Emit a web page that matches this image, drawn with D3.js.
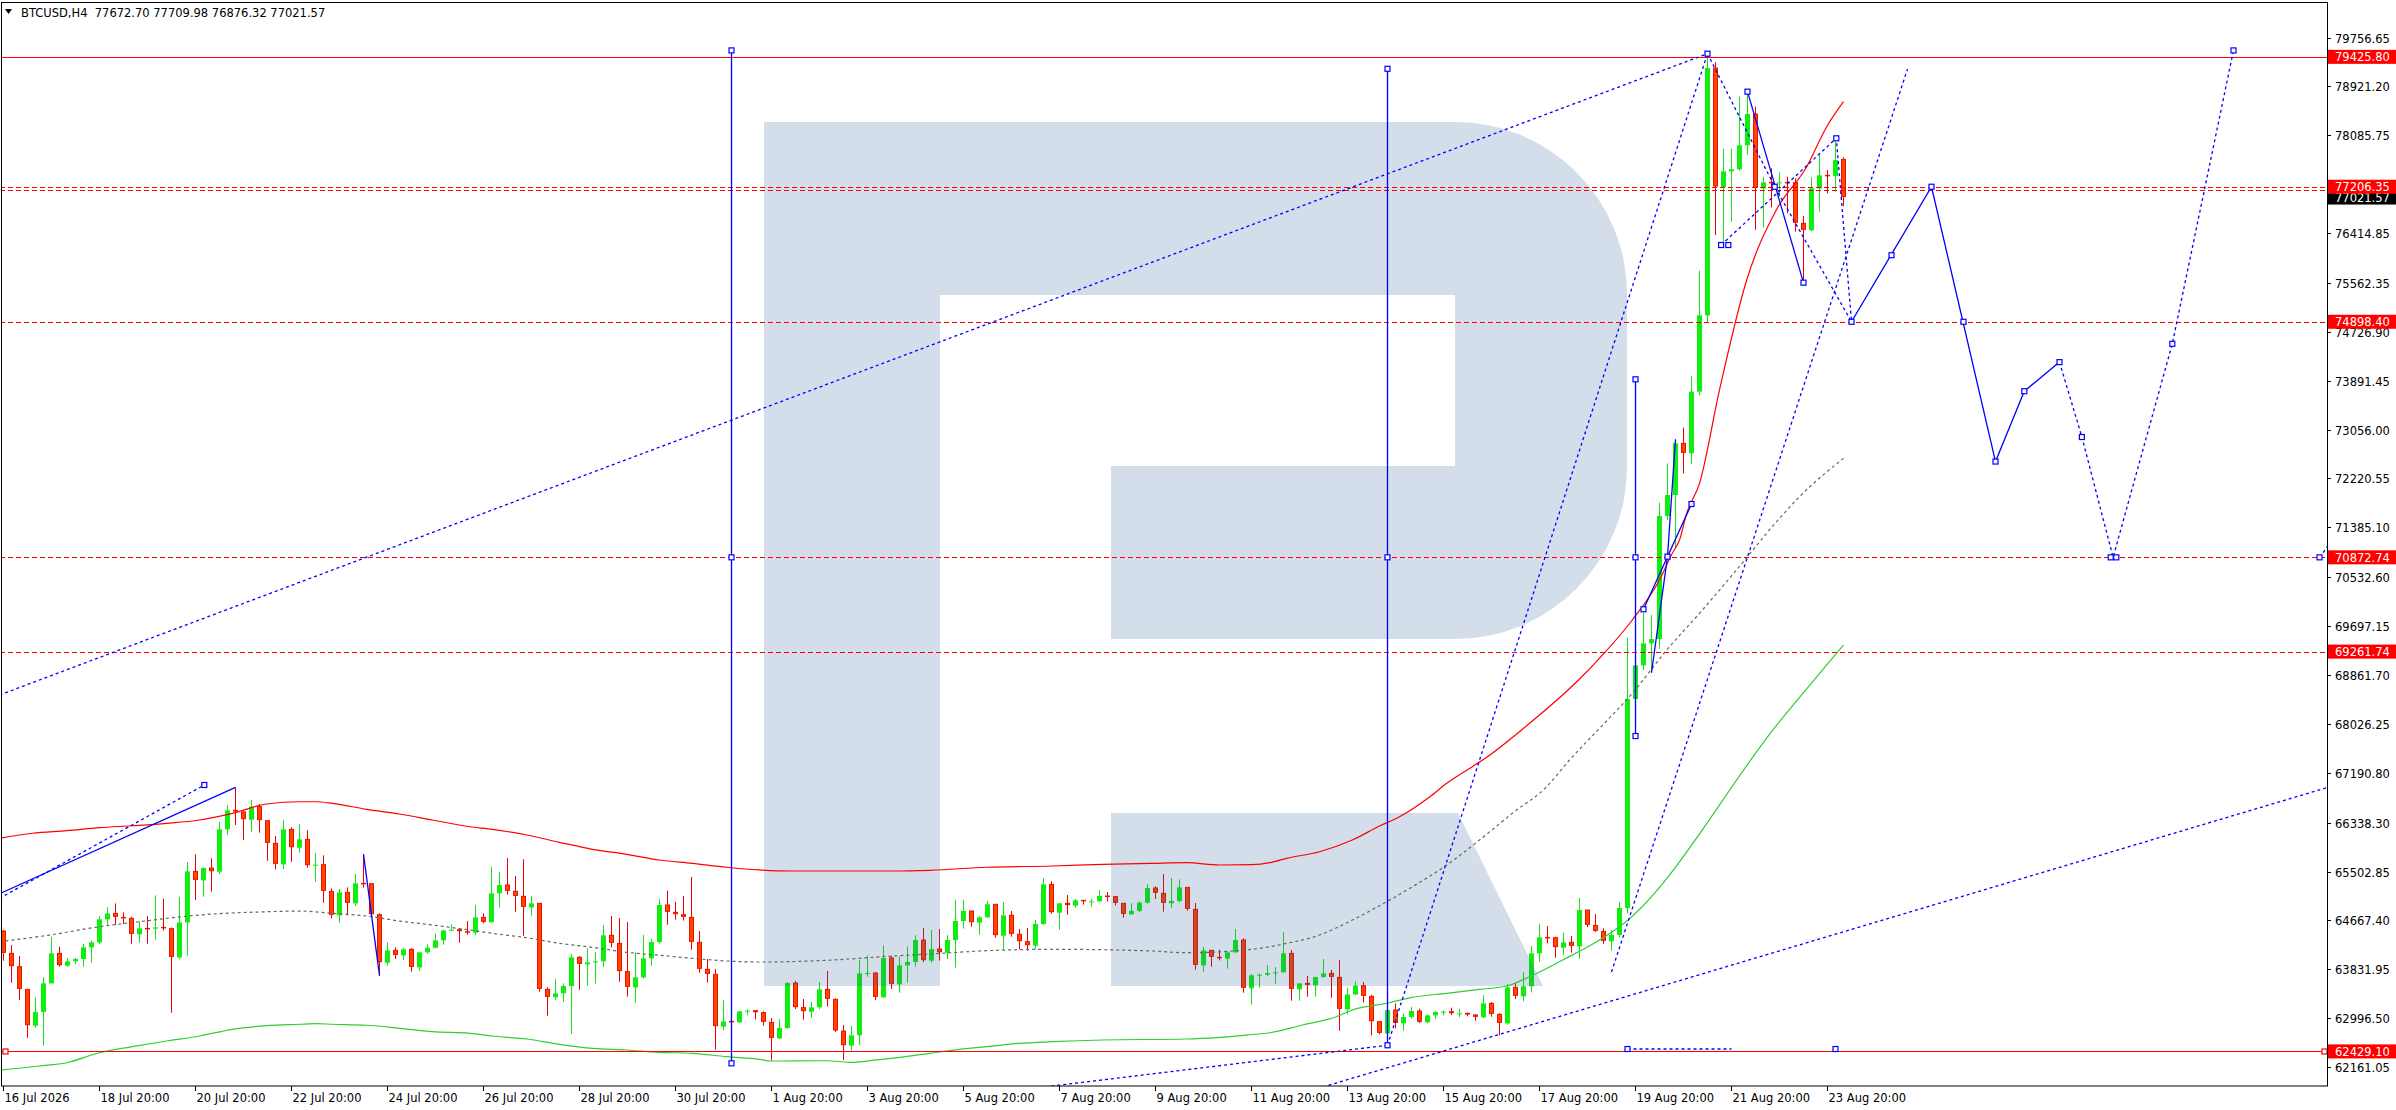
<!DOCTYPE html>
<html><head><meta charset="utf-8">
<script src="https://cdn.jsdelivr.net/npm/d3@7"></script>
<style>
body{margin:0;background:#fff;overflow:hidden;}
svg text{font-family:"DejaVu Sans","Liberation Sans",sans-serif;font-size:11.5px;}
</style></head>
<body><svg id="c" width="2396" height="1110"></svg>
<script>
// ===== DATA (BTCUSD H4, bar 0 = 16 Jul 2026 20:00) =====
const symbolTitle = "BTCUSD,H4  77672.70 77709.98 76876.32 77021.57";
const opens = [64486,64105,63877,63489,62868,63102,63592,64105,63894,63968,
64008,64207,64293,64686,64788,64720,64703,64429,64532,64526,
64549,64526,64036,64634,65506,65352,65563,65500,66224,66549,
66520,66389,66611,66372,65985,65626,66224,65910,66053,65603,
65620,65164,64754,65147,64959,65301,65295,64765,63945,64156,
64070,64173,63865,64122,64201,64327,64498,64509,64475,64458,
64720,64635,65131,65273,65165,65079,64891,64960,63490,63353,
63422,63547,64037,63917,63951,63969,64413,64276,63792,63524,
63695,64020,64299,64931,64806,64766,64720,64293,63832,63746,
62852,62943,62926,63114,63125,63091,62926,62652,62829,63598,
63177,63108,63182,63490,63319,62778,62527,62704,63763,63769,
63353,64025,63575,63900,63957,64333,63980,64179,64116,64333,
64658,64829,64629,64720,64943,64407,64755,64430,64304,64236,
64606,65284,64800,64960,64920,65011,64988,64994,65085,65074,
64960,64772,64829,64971,65222,65131,64960,64999,65233,64857,
63900,64156,64037,64014,64122,64333,63507,63729,63740,63769,
63780,64105,63490,63592,63558,63700,63763,63695,63148,63404,
63552,63370,62937,62738,63136,62908,63017,63119,62926,63045,
63102,63108,63074,63079,63051,63011,63250,63062,62908,63524,
63370,63541,64105,64378,64372,64202,64293,64224,64845,64583,
64481,64310,64418,64880,68451,69027,69403,69477,71579,71938,
72821,72650,73704,75008,79235,77202,77469,77504,77914,78449,
77179,77281,77264,77281,77276,76581,76461,77179,77401,77390,
77672.70];
const highs = [64503,64247,64059,63489,63353,63694,64389,64219,64025,64031,
64264,64321,64743,64896,64959,64805,64731,64652,64743,65096,
65039,64549,65067,65666,65797,65574,65728,66349,66640,66942,
66543,66725,66657,66378,66110,66383,66258,66315,66212,65819,
65780,65215,65204,65233,65460,65802,65307,64788,64293,64207,
64196,64196,64127,64258,64446,64505,64600,64520,64657,64931,
64789,65581,65495,65735,65427,65712,65085,64960,63524,63667,
63593,64094,64060,64196,64128,64589,64743,64709,64641,64122,
64419,64350,65034,65176,64988,65085,65410,64487,64008,63837,
63308,62966,63120,63148,63137,63114,63000,62983,63615,63632,
63325,63273,63615,63803,63336,62880,62863,63991,64071,63781,
64242,64060,64048,64225,64413,64538,64504,64521,64418,65017,
65017,64829,64743,64999,64943,64982,64829,64521,64538,64675,
65393,65336,64965,65102,65034,65017,65039,65187,65153,65085,
64960,64960,64994,65290,65250,65461,65393,65370,65233,64965,
64213,64162,64168,64139,64521,64361,63752,63763,63906,63871,
64470,64162,63592,63718,63706,64008,63820,63991,63512,63626,
63615,63393,62943,63222,63250,63074,63188,63159,63057,63119,
63131,63176,63159,63096,63068,63393,63273,63079,63581,63598,
63786,64230,64606,64572,64390,64458,64401,65050,64845,64777,
64532,64504,64982,69499,69100,69927,69887,71807,72479,72889,
73088,73971,75772,79480,79338,77857,77857,78746,78831,78575,
77378,77521,77452,77378,77350,76706,77367,77749,77492,78033,
77709.98];
const lows = [63979,63603,63307,62663,62834,62527,63592,63877,63877,63917,
63877,63945,64264,64583,64589,64606,64270,64287,64270,64338,
64492,63091,64002,64065,65016,65073,65159,65466,66127,66298,
66042,66178,66167,65688,65540,65546,65671,65825,65569,65329,
64970,64703,64629,64754,64919,65227,64720,63723,63894,64008,
63991,63791,63808,64099,64190,64253,64486,64287,64424,64413,
64618,64635,64886,65108,64817,64407,64749,63450,63040,63313,
63279,62732,63484,63553,63587,63877,64208,63621,63365,63262,
63672,63894,64270,64595,64681,64664,64168,63775,63604,62459,
62789,62909,62920,63046,62977,62869,62271,62641,62812,63154,
62972,63006,63148,63194,62761,62282,62442,62539,63706,63308,
63348,63501,63433,63604,63877,63957,63946,63980,64008,63860,
64527,64561,64424,64715,64373,64162,64390,64173,64151,64173,
64589,64783,64510,64766,64886,64937,64903,64988,64994,64925,
64715,64766,64806,64954,65034,64817,64880,64977,64834,63826,
63786,63877,63985,63843,64116,63433,63228,63518,63712,63587,
63775,63296,63296,63364,63364,63689,63347,62783,63062,63387,
63262,62704,62721,62726,62823,62783,62988,62914,62908,62982,
63045,63051,63011,63028,62954,62999,63022,62703,62886,63324,
63284,63438,63962,64276,64031,64082,64116,64014,64555,64469,
64270,64150,64380,64788,68420,68947,68901,69311,71510,71049,
72308,72467,73641,74894,76381,76256,76609,77480,77754,76472,
76507,76854,77036,76752,76438,75567,76444,76780,77093,77122,
76876.32];
const closes = [64105,63877,63489,62868,63102,63592,64105,63894,63968,64008,
64207,64293,64686,64788,64720,64703,64429,64532,64526,64549,
64526,64036,64634,65506,65352,65563,65500,66224,66549,66520,
66389,66611,66372,65985,65626,66224,65910,66053,65603,65620,
65164,64754,65147,64959,65301,65295,64765,63945,64156,64070,
64173,63865,64122,64201,64327,64498,64509,64475,64458,64720,
64635,65131,65273,65165,65079,64891,64960,63490,63353,63422,
63547,64037,63917,63951,63969,64413,64276,63792,63524,63695,
64020,64299,64931,64806,64766,64720,64293,63832,63746,62852,
62943,62926,63114,63125,63091,62926,62652,62829,63598,63177,
63108,63182,63490,63319,62778,62527,62704,63763,63769,63353,
64025,63575,63900,63957,64333,63980,64179,64116,64333,64658,
64829,64629,64720,64943,64407,64755,64430,64304,64236,64606,
65284,64800,64960,64920,65011,64988,64994,65085,65074,64960,
64772,64829,64971,65222,65131,64960,64999,65233,64857,63900,
64156,64037,64014,64122,64333,63507,63729,63740,63769,63780,
64105,63490,63592,63558,63700,63763,63695,63148,63404,63552,
63370,62937,62738,63136,62908,63017,63119,62926,63045,63102,
63108,63074,63079,63051,63011,63250,63062,62908,63524,63370,
63541,64105,64378,64372,64202,64293,64224,64845,64583,64481,
64310,64418,64880,68451,69027,69403,69477,71579,71938,72821,
72650,73704,75008,79235,77202,77469,77504,77914,78449,77179,
77281,77264,77281,77276,76581,76461,77179,77401,77390,77663,
77021.57];

// indicator lines: [bar, price] samples
const maRed = [[-0.5,66071],[3.6,66157],[7.9,66201],[12,66252],[16.1,66286],[20.4,66327],[24.5,66384],[28.6,66498],[32.9,66657],[37,66696],[39.1,66696],[41.1,66669],[45.4,66566],[49.5,66486],[53.6,66384],[58.3,66269],[61.1,66225],[65.4,66127],[69.5,66003],[73.6,65883],[77.9,65798],[82,65700],[86.1,65644],[90.4,65576],[94.5,65530],[98.6,65512],[111.1,65512],[115.8,65524],[122.9,65576],[131.1,65598],[137.4,65627],[143.6,65644],[147.9,65654],[152,65615],[156.1,65620],[158.3,65654],[160.4,65729],[164.5,65842],[168.6,66042],[172,66281],[174.5,66440],[178.3,66782],[180.4,67011],[183.6,67295],[184.9,67409],[189.9,67939],[197,68793],[199.5,69147],[203.6,69802],[207,70486],[208.6,70941],[209.5,71169],[210.4,71625],[212,72138],[214.5,73733],[217.9,75612],[221.6,76809],[225.4,77549],[227.9,78232],[230,78660]];
const maGrey = [[-0.5,64304],[5.75,64418],[12,64560],[17,64646],[24.5,64760],[32.9,64816],[37,64828],[41.1,64789],[45.4,64743],[49.5,64657],[53.6,64589],[58.3,64504],[61.1,64447],[65.4,64372],[69.5,64276],[73.6,64208],[77.9,64123],[82,64072],[86.1,64020],[90.4,63974],[94.5,63957],[102.9,63986],[111.1,64059],[115.8,64094],[122.9,64150],[131.1,64174],[143.6,64145],[147.9,64116],[156.1,64174],[160.4,64276],[164.5,64418],[168.6,64674],[172,64919],[176.1,65243],[180.4,65614],[184.5,66042],[188.6,66498],[192.9,66953],[195.75,67409],[199.5,67951],[203.6,68549],[207.9,69289],[212,69916],[216.1,70571],[222,71539],[224.5,71909],[230,72565]];
const maGreen = [[-0.5,62111],[4.5,62180],[7.9,62236],[12,62407],[16.1,62510],[20.4,62607],[24.5,62693],[28.6,62807],[32.9,62869],[37,62893],[39.1,62903],[41.1,62893],[45.4,62876],[49.5,62824],[53.6,62766],[58.3,62739],[61.1,62693],[65.4,62641],[69.5,62551],[73.6,62482],[77.9,62453],[82,62414],[86.1,62397],[90.4,62339],[94.5,62294],[95.9,62265],[102.9,62270],[105.75,62243],[109.1,62283],[115.8,62397],[119.5,62465],[122.9,62510],[127,62568],[131.1,62595],[137.4,62624],[147.9,62641],[152,62670],[155.4,62709],[158.3,62748],[162.4,62880],[166.6,63021],[168.6,63136],[173.25,63261],[176.1,63353],[180.4,63422],[184.5,63490],[187.9,63547],[190.75,63706],[194.9,63991],[199.5,64333],[202,64560],[222,68064],[230,69374]];

// horizontal levels
const levelPrices = [79425.80, 77206.35, 74898.40, 70872.74, 69261.74, 62429.10];
const levelSolid  = [true, false, false, false, false, true];
const extraLevel = 77148;
const bidPrice = 77021.57;

// axis labels
const yTickValues = [79756.65,78921.20,78085.75,77250.30,76414.85,75562.35,74726.90,73891.45,73056.00,72220.55,71385.10,70532.60,69697.15,68861.70,68026.25,67190.80,66338.30,65502.85,64667.40,63831.95,62996.50,62161.05];
const xTickBars = [0,12,24,36,48,60,72,84,96,108,120,132,144,156,168,180,192,204,216,228];
const xTickLabels = ["16 Jul 2026","18 Jul 20:00","20 Jul 20:00","22 Jul 20:00","24 Jul 20:00","26 Jul 20:00","28 Jul 20:00","30 Jul 20:00","1 Aug 20:00","3 Aug 20:00","5 Aug 20:00","7 Aug 20:00","9 Aug 20:00","11 Aug 20:00","13 Aug 20:00","15 Aug 20:00","17 Aug 20:00","19 Aug 20:00","21 Aug 20:00","23 Aug 20:00"];

// analysis drawings: [bar, price]
const vLines = [[91,79536,70872.74,62226],[173,79222,70872.74,62534],[204,73915,70872.74,67819]];
const solidPaths = [
  [[-0.5,65124],[29,66942]],
  [[45,65802],[47,63723]],
  [[206,68901],[208,70884],[209,72889]],
  [[205,69985],[211,71784]],
  [[218,78831],[225,75567]],
  [[231,74898.4],[241,77206.35],[249,72510],[252.6,73712],[257,74209]]
];
const dottedPaths = [
  [[-0.5,68520],[213,79480]],
  [[-0.5,65045],[25.1,66982]],
  [[128,61786],[173,62534]],
  [[164.9,61820],[291,66960]],
  [[173,62534],[213,79480]],
  [[201,63786],[238,79218]],
  [[213,79480],[221.4,77206.35],[231,74898.4]],
  [[214.7,76210],[229.1,78034],[231,74898.4]],
  [[257,74209],[259.8,72929],[263.7,70872.74],[271.1,74522],[278.75,79536]],
  [[203,62470],[216,62470]],
  [[289.5,70872.74],[291,71150]]
];
const markerPoints = [[213,79480],[25.1,66982],[208,70884],[205,69985],[211,71784],[218,78831],[225,75567],[221.4,77206.35],[214.7,76210],[215.6,76210],[229.1,78034],[231,74898.4],[236,76036],[241,77206.35],[245,74898.4],[249,72510],[252.6,73712],[257,74209],[259.8,72929],[263.4,70872.74],[264.1,70872.74],[271.1,74522],[278.75,79536],[203,62470],[229,62470],[289.5,70872.74]];

// ===== DRAWING =====
const svg = d3.select("#c");
const PR = 2327, PB = 1086;
const x = d3.scaleLinear().domain([0, 290]).range([3.5, 3.5 + 8 * 290]);
const y = d3.scaleLinear().domain([62161.05, 79756.65]).range([1067.1, 37.5]);

svg.append("rect").attr("width", 2396).attr("height", 1110).attr("fill", "#fff");
const defs = svg.append("defs");
defs.append("clipPath").attr("id", "plot").append("rect").attr("x", 2).attr("y", 3).attr("width", PR - 2).attr("height", PB - 3);
const g = svg.append("g").attr("clip-path", "url(#plot)");

// candles
const idx = d3.range(closes.length);
const cg = g.append("g");
idx.forEach(i => {
  const cx = x(i), o = opens[i], c = closes[i];
  const bull = c >= o;
  cg.append("line").attr("x1", cx).attr("x2", cx).attr("y1", y(highs[i])).attr("y2", y(lows[i]))
    .attr("stroke", bull ? "#18e018" : "#ee0000").attr("stroke-width", 1);
  const top = y(Math.max(o, c)), bot = y(Math.min(o, c));
  const h = Math.max(1, bot - top);
  if (bull) {
    cg.append("rect").attr("x", cx - 2.5).attr("y", top).attr("width", 5).attr("height", h).attr("fill", "#10ee10");
  } else {
    cg.append("rect").attr("x", cx - 2).attr("y", top).attr("width", 4).attr("height", Math.max(0.5, h - 1) )
      .attr("fill", "#ff4500").attr("stroke", "#ee1100").attr("stroke-width", 1);
  }
});

// watermark (semi-transparent overlay)
g.append("path")
  .attr("d", "M764,122 H1455 A172,172 0 0 1 1627,294 V467 A172,172 0 0 1 1455,639 H1111 V466 H1455 V295 H940 V986 H764 Z M1111,813 H1458 L1543,986 H1111 Z")
  .attr("fill", "#235a96").attr("fill-opacity", 0.2);

// indicators
const lineGen = d3.line().x(d => x(d[0])).y(d => y(d[1])).curve(d3.curveMonotoneX);
g.append("path").attr("d", lineGen(maGreen)).attr("fill", "none").attr("stroke", "#32cd32").attr("stroke-width", 1.2);
g.append("path").attr("d", lineGen(maGrey)).attr("fill", "none").attr("stroke", "#666").attr("stroke-width", 1.2).attr("stroke-dasharray", "3,3");
g.append("path").attr("d", lineGen(maRed)).attr("fill", "none").attr("stroke", "#ff0000").attr("stroke-width", 1.2);

// horizontal levels
levelPrices.forEach((p, k) => {
  g.append("line").attr("x1", 0).attr("x2", PR).attr("y1", Math.round(y(p)) + 0.5).attr("y2", Math.round(y(p)) + 0.5)
    .attr("stroke", "#ff0000").attr("stroke-width", 1).attr("stroke-dasharray", levelSolid[k] ? null : "5,3");
});
g.append("line").attr("x1", 0).attr("x2", PR).attr("y1", Math.round(y(extraLevel)) + 0.5).attr("y2", Math.round(y(extraLevel)) + 0.5)
  .attr("stroke", "#ff0000").attr("stroke-width", 1).attr("stroke-dasharray", "5,3");

// blue drawings
const straight = d3.line().x(d => x(d[0])).y(d => y(d[1]));
solidPaths.forEach(pth => g.append("path").attr("d", straight(pth)).attr("fill", "none").attr("stroke", "#0000ff").attr("stroke-width", 1.3));
dottedPaths.forEach(pth => g.append("path").attr("d", straight(pth)).attr("fill", "none").attr("stroke", "#0000ff").attr("stroke-width", 1.3).attr("stroke-dasharray", "3,3"));
vLines.forEach(v => {
  g.append("line").attr("x1", x(v[0])).attr("x2", x(v[0])).attr("y1", y(v[1])).attr("y2", y(v[3])).attr("stroke", "#0000ff").attr("stroke-width", 1.3);
});
function marker(px, py, col) {
  g.append("rect").attr("x", px - 2.5).attr("y", py - 2.5).attr("width", 5).attr("height", 5)
    .attr("fill", "#fff").attr("stroke", col).attr("stroke-width", 1.2);
}
vLines.forEach(v => { marker(x(v[0]), y(v[1]), "#0000ff"); marker(x(v[0]), y(v[2]), "#0000ff"); marker(x(v[0]), y(v[3]), "#0000ff"); });
markerPoints.forEach(m => marker(x(m[0]), y(m[1]), "#0000ff"));
marker(5.5, Math.round(y(62429.10)) + 0.5, "#ff0000");
marker(PR - 2.5, Math.round(y(62429.10)) + 0.5, "#ff0000");

// frame
svg.append("rect").attr("x", 1.5).attr("y", 2.5).attr("width", PR - 1).attr("height", PB - 2.5)
  .attr("fill", "none").attr("stroke", "#000").attr("stroke-width", 1);

// right axis ticks and labels
const ya = svg.append("g");
yTickValues.forEach(v => {
  const yy = Math.round(y(v)) + 0.5;
  ya.append("line").attr("x1", PR).attr("x2", PR + 4).attr("y1", yy).attr("y2", yy).attr("stroke", "#000");
  ya.append("text").attr("x", 2335).attr("y", yy + 4.5).attr("fill", "#000").text(v.toFixed(2));
});
// bid label (black)
const by = y(bidPrice);
ya.append("rect").attr("x", 2328).attr("y", by - 7).attr("width", 68).attr("height", 14).attr("fill", "#000");
ya.append("text").attr("x", 2335).attr("y", by + 4.5).attr("fill", "#fff").text(bidPrice.toFixed(2));
// level labels (red)
levelPrices.forEach(p => {
  const ly = y(p);
  ya.append("rect").attr("x", 2328).attr("y", ly - 7).attr("width", 68).attr("height", 14).attr("fill", "#ff0000");
  ya.append("text").attr("x", 2335).attr("y", ly + 4.5).attr("fill", "#fff").text(p.toFixed(2));
});

// bottom axis
const xa = svg.append("g");
xTickBars.forEach((b, k) => {
  const xx = x(b);
  xa.append("line").attr("x1", xx).attr("x2", xx).attr("y1", PB).attr("y2", PB + 5).attr("stroke", "#000");
  xa.append("text").attr("x", xx + 1).attr("y", 1102).attr("fill", "#000").text(xTickLabels[k]);
});

// title
svg.append("path").attr("d", "M5,9 L12,9 L8.5,14 Z").attr("fill", "#000");
svg.append("text").attr("x", 21).attr("y", 16.5).attr("fill", "#000").attr("xml:space", "preserve").style("white-space", "pre").text(symbolTitle);
</script>
</body></html>
